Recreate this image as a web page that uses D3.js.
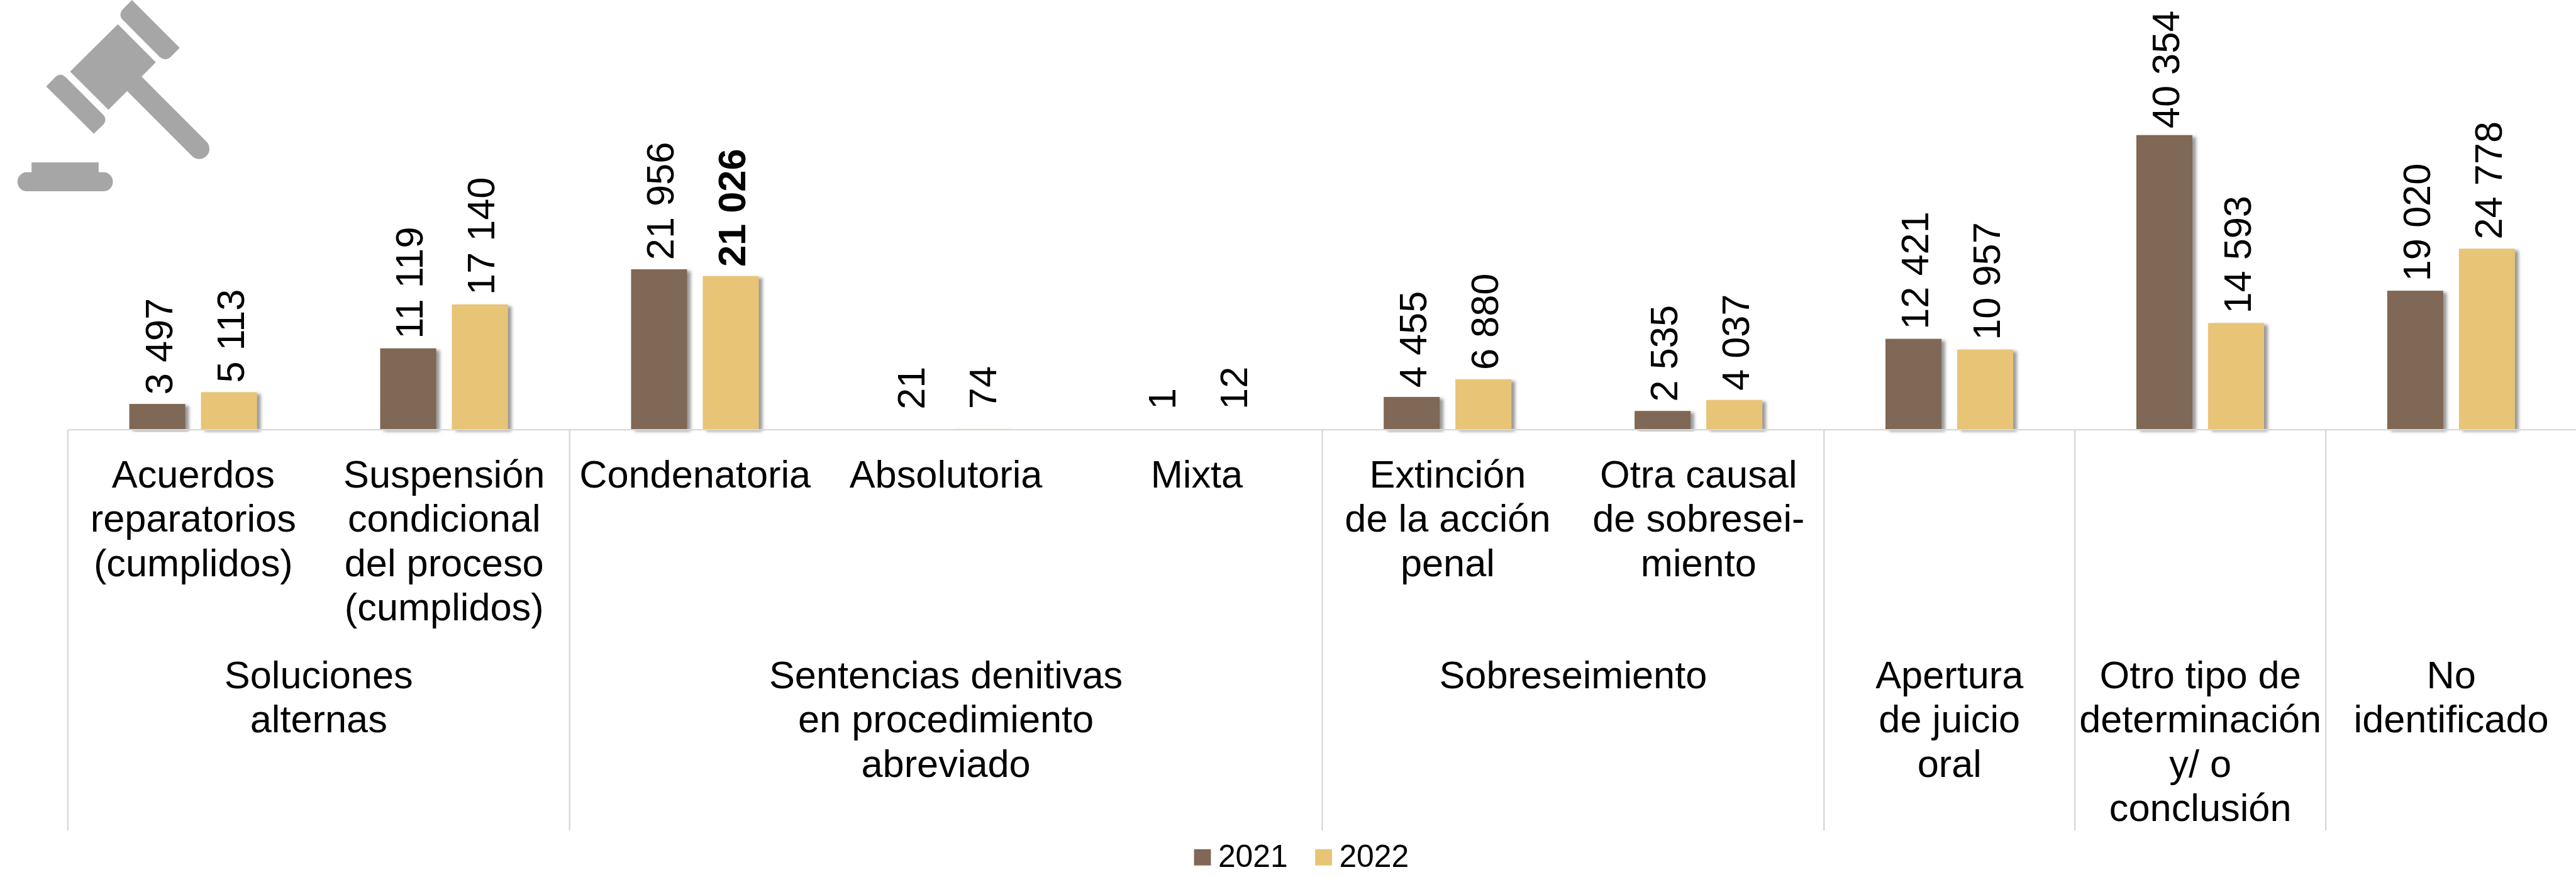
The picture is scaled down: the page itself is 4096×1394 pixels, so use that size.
<!DOCTYPE html>
<html>
<head>
<meta charset="utf-8">
<script src="https://cdn.jsdelivr.net/npm/d3@7"></script>
<style>
  body { margin: 0; background: #fff; }
  svg { display: block; }
  text { font-family: "Liberation Sans", Arial, sans-serif; fill: #000; }
</style>
</head>
<body>
<script>
var categories = ["Acuerdos", "Suspension", "Condenatoria", "Absolutoria", "Mixta", "Extincion", "OtraCausal", "Apertura", "OtroTipo", "NoIdentificado"];
var catLabels = [
  ["Acuerdos", "reparatorios", "(cumplidos)"],
  ["Suspensión", "condicional", "del proceso", "(cumplidos)"],
  ["Condenatoria"],
  ["Absolutoria"],
  ["Mixta"],
  ["Extinción", "de la acción", "penal"],
  ["Otra causal", "de sobresei-", "miento"],
  [], [], []
];
var values2021 = [3497, 11119, 21956, 21, 1, 4455, 2535, 12421, 40354, 19020];
var values2022 = [5113, 17140, 21026, 74, 12, 6880, 4037, 10957, 14593, 24778];
var years = ["2021", "2022"];
var yearColors = ["#806757", "#e8c477"];
// first and last category of each outer group
var groupStart = [0, 2, 5, 7, 8, 9];
var groupEnd = [1, 4, 6, 7, 8, 9];
var groupLabels = [
  ["Soluciones", "alternas"],
  ["Sentencias denitivas", "en procedimiento", "abreviado"],
  ["Sobreseimiento"],
  ["Apertura", "de juicio", "oral"],
  ["Otro tipo de", "determinación", "y/ o", "conclusión"],
  ["No", "identificado"]
];

var W = 4276, H = 1455;
var baseY = 712.5, lineH = 73.5, fontSize = 64;

// everything is laid out in reference pixels, the viewBox does the 0.957
var svg = d3.select("body").append("svg")
  .attr("width", 4096)
  .attr("height", 1394)
  .attr("viewBox", "0 0 " + W + " " + H);

var defs = svg.append("defs");
var shadow = defs.append("filter").attr("id", "barShadow")
  .attr("x", "-20%").attr("y", "-10%").attr("width", "140%").attr("height", "120%");
shadow.append("feDropShadow")
  .attr("dx", 6).attr("dy", 3).attr("stdDeviation", 2.5)
  .attr("flood-color", "#777").attr("flood-opacity", 0.75);

var x0 = d3.scaleBand().domain(categories).range([112.6, 112.6 + 416.45 * 10]);
var x1 = d3.scaleBand().domain(years).range([102, 314]).paddingInner(0.2185);
var y = d3.scaleLinear().domain([0, 45000]).range([baseY, baseY - 544.7]);

// gavel icon, top left
var icon = svg.append("g").attr("transform", "scale(" + (1 / 3) + ")").attr("fill", "#a6a6a6");
icon.append("line")
  .attr("x1", 670).attr("y1", 418).attr("x2", 992).attr("y2", 740)
  .attr("stroke", "#a6a6a6").attr("stroke-width", 102).attr("stroke-linecap", "round");
icon.append("path").attr("d", "M587,120L776,310L540,546L349,356Z");
icon.append("path").attr("d", "M657,0L895,238L850,283Q822,307 795,283L608,95Q590,70 610,47Z");
icon.append("path").attr("d", "M230,430L277,382Q300,360 325,382L515,572Q535,595 515,620L467,665Z");
icon.append("rect").attr("x", 157).attr("y", 808).attr("width", 334).attr("height", 60);
icon.append("rect").attr("x", 87).attr("y", 857).attr("width", 475).attr("height", 95).attr("rx", 47);

// separators between the outer groups
var sepX = groupStart.map(function(d) { return x0(categories[d]); });
svg.selectAll(".sep").data(sepX).enter().append("line")
  .attr("class", "sep")
  .attr("x1", function(d) { return d; })
  .attr("x2", function(d) { return d; })
  .attr("y1", baseY)
  .attr("y2", 1378)
  .attr("stroke", "#d9d9d9")
  .attr("stroke-width", 2.5);

// bars
years.forEach(function(year, s) {
  var vals = s == 0 ? values2021 : values2022;
  svg.selectAll(".bar" + year).data(vals).enter().append("rect")
    .attr("class", "bar" + year)
    .attr("x", function(d, i) { return x0(categories[i]) + x1(year); })
    .attr("y", function(d) { return y(d); })
    .attr("width", x1.bandwidth())
    .attr("height", function(d) { return y(0) - y(d); })
    .attr("fill", yearColors[s])
    .attr("filter", "url(#barShadow)");
});

// axis line, on top of the bar shadows
svg.append("g")
  .attr("transform", "translate(0," + baseY + ")")
  .call(d3.axisBottom(x0).tickSize(0).tickFormat(""))
  .call(function(g) { g.select(".domain").attr("stroke", "#d9d9d9").attr("stroke-width", 2.5); });

// value labels, rotated. tiny values sit higher, the tallest is held inside the chart
function fmt(v) {
  return d3.format(",")(v).replace(",", " ");
}
function labelY(v) {
  var gap = v < 100 ? 33 : 15.5;
  return Math.max(y(v) - gap, 213);
}
years.forEach(function(year, s) {
  var vals = s == 0 ? values2021 : values2022;
  svg.selectAll(".val" + year).data(vals).enter().append("text")
    .attr("class", "val" + year)
    .attr("transform", function(d, i) {
      var cx = x0(categories[i]) + x1(year) + x1.bandwidth() / 2 + 24.5;
      return "translate(" + cx + "," + labelY(d) + ") rotate(-90)";
    })
    .attr("font-size", fontSize)
    .attr("font-weight", function(d) { return d == 21026 ? "bold" : "normal"; })
    .text(fmt);
});

// multi line centred text
function block(lines, cx, firstBase) {
  svg.selectAll(null).data(lines).enter().append("text")
    .attr("x", cx)
    .attr("y", function(d, i) { return firstBase + i * lineH; })
    .attr("text-anchor", "middle")
    .attr("font-size", fontSize)
    .text(function(d) { return d; });
}

catLabels.forEach(function(lines, i) {
  block(lines, x0(categories[i]) + x0.bandwidth() / 2, 809);
});
groupLabels.forEach(function(lines, i) {
  var left = x0(categories[groupStart[i]]);
  var right = x0(categories[groupEnd[i]]) + x0.bandwidth();
  block(lines, (left + right) / 2, 1142);
});

// legend
var legendX = [1982, 2183];
years.forEach(function(year, s) {
  svg.append("rect")
    .attr("x", legendX[s]).attr("y", 1409)
    .attr("width", 28).attr("height", 27)
    .attr("fill", yearColors[s]);
  svg.append("text")
    .attr("x", legendX[s] + 40).attr("y", 1438)
    .attr("font-size", 52)
    .text(year);
});
</script>
</body>
</html>
